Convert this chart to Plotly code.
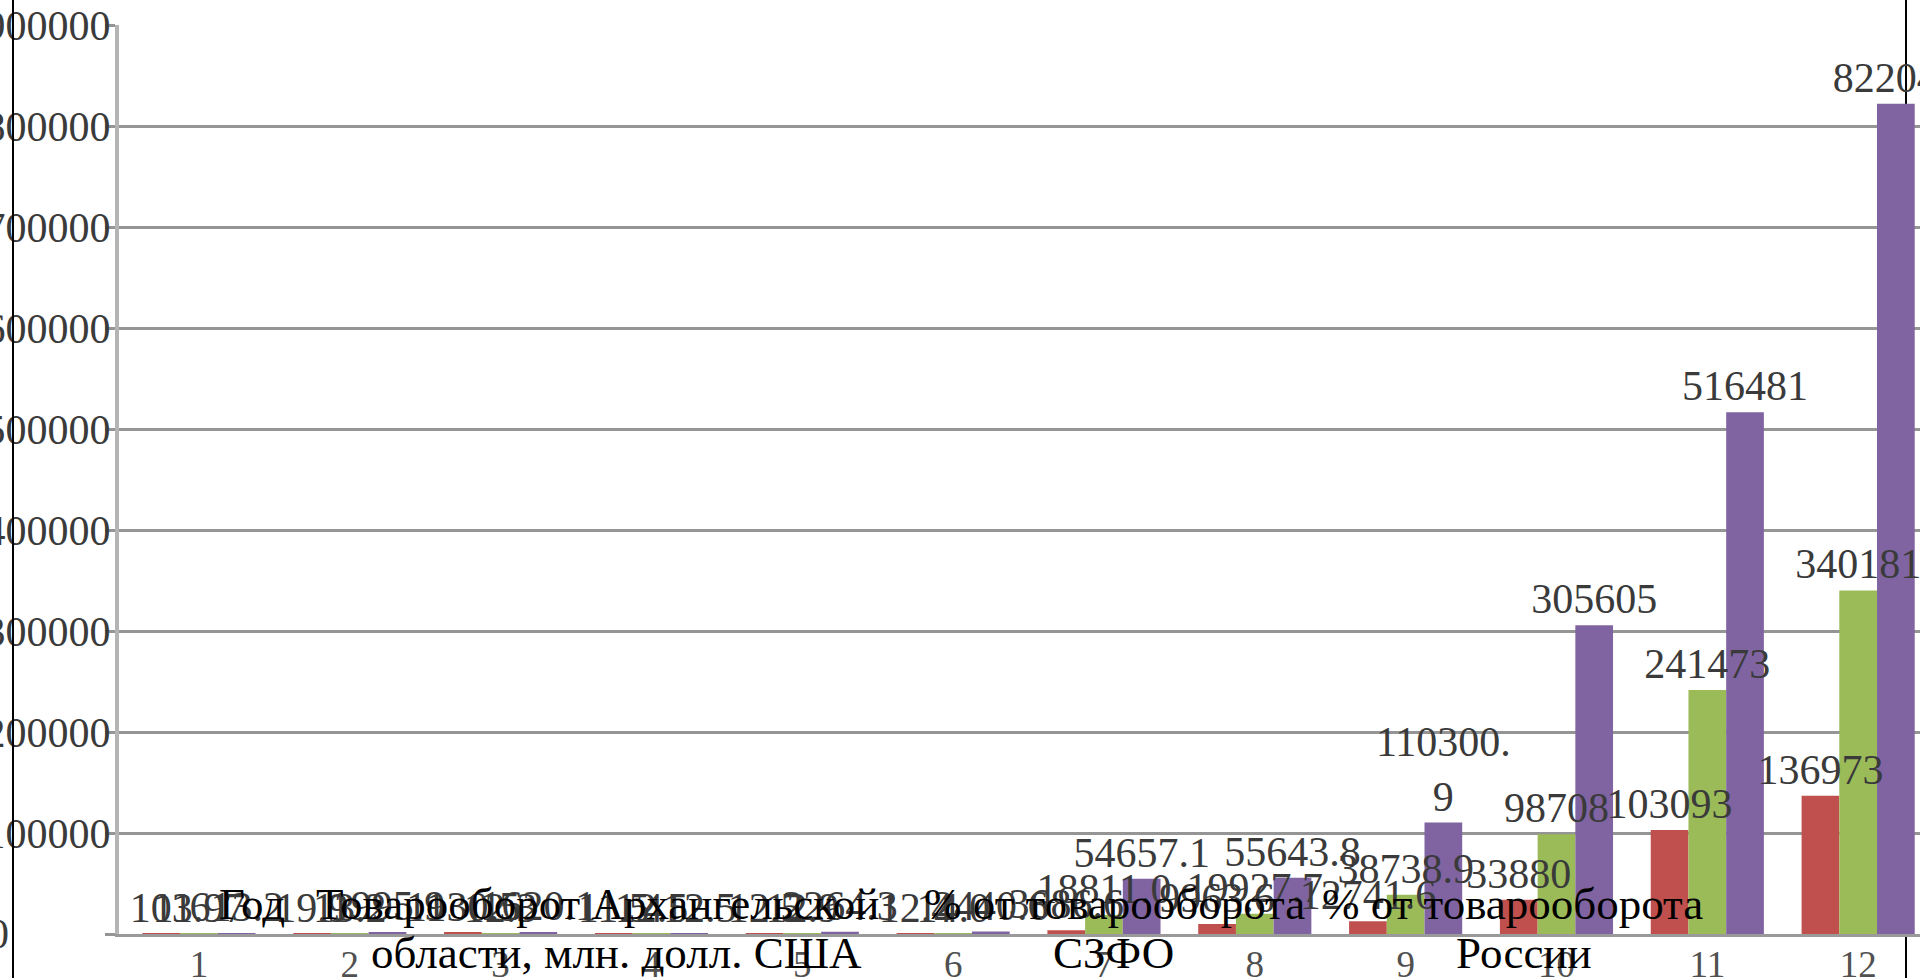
import plotly.graph_objects as go

categories = ["1", "2", "3", "4", "5", "6", "7", "8", "9", "10", "11", "12"]

red_vals = [103, 19.9, 1130.5, 11.5, 12.5, 12.4, 3686.6, 9963.6, 12741.6, 33880, 103093, 136973]
green_vals = [11.97, 13.2, 12.3, 12.5, 12.9, 14.0, 18811.0, 19927.7, 38738.9, 98708, 241473, 340181]
purple_vals = [613.2, 1995.9, 1620.1, 412.5, 2264.3, 2440.6, 54657.1, 55643.8, 110300.9, 305605, 516481, 822047]

y_ticks = [0, 100000, 200000, 300000, 400000, 500000, 600000, 700000, 800000, 900000]

# table header text that sits over the chart in the original (one entry per line)
header_lines = [
    ("Год", 252, 904),
    ("Товарооборот Архангельской", 597, 904),
    ("области, млн. долл. США", 616, 953),
    ("% от товарооборота", 1114, 904),
    ("СЗФО", 1113, 953),
    ("% от товарооборота", 1512, 904),
    ("России", 1524, 953),
]

FONT = "Liberation Serif"
W, H = 1920, 978
ML, MR, MT, MB = 119, 0, 25, 44


def label(v):
    s = str(v)
    # excel wraps the long labels
    if len(s) > 7:
        s = s[:7] + "<br>" + s[7:]
    return s


def px_x(p):
    return (p - ML) / (W - ML - MR)


def px_y(p):
    return 1 - (p - MT) / (H - MT - MB)


series = [(red_vals, "#C0504D", "r"), (green_vals, "#9BBB59", "g"), (purple_vals, "#8064A2", "p")]

fig = go.Figure()
for vals, color, grp in series:
    fig.add_trace(go.Bar(
        x=categories, y=vals, offsetgroup=grp,
        marker=dict(color=color, line=dict(width=0)),
        hoverinfo="skip",
    ))
# labels drawn after all bars so they sit on top, as in the original
for vals, color, grp in series:
    fig.add_trace(go.Bar(
        x=categories, y=vals, offsetgroup=grp,
        marker=dict(color="rgba(0,0,0,0)", line=dict(width=0)),
        text=[label(v) for v in vals],
        textposition="outside",
        constraintext="none",
        cliponaxis=False,
        textfont=dict(family=FONT, size=42, color="#3a3a3a"),
        hoverinfo="skip",
    ))

fig.update_layout(
    width=W, height=H,
    margin=dict(l=ML, r=MR, t=MT, b=MB),
    paper_bgcolor="white",
    plot_bgcolor="rgba(0,0,0,0)",
    barmode="group",
    bargap=0.25,
    bargroupgap=0,
    showlegend=False,
    xaxis=dict(
        type="category",
        range=[-0.53, 11.41],
        automargin=False,
        showline=True, linecolor="#9a9a9a", linewidth=3,
        showgrid=False, ticks="",
        ticklabelstandoff=-4,
        tickfont=dict(family=FONT, size=37, color="#505050"),
    ),
    yaxis=dict(
        range=[0, 900000],
        automargin=False,
        tickvals=y_ticks,
        ticktext=[""] + [str(v) for v in y_ticks[1:]],
        showline=True, linecolor="#b4b4b4", linewidth=4,
        showgrid=True, gridcolor="#959595", gridwidth=3,
        zeroline=False,
        ticks="outside", ticklen=10, tickcolor="#959595", tickwidth=3,
        ticklabelstandoff=-14,
        tickfont=dict(family=FONT, size=42, color="#3a3a3a"),
    ),
)

# the "0" label is left-aligned like the rest in the original
fig.add_annotation(
    xref="paper", yref="y", x=px_x(-14), y=0, xanchor="left", yanchor="middle",
    text="0", showarrow=False, font=dict(family=FONT, size=42, color="#3a3a3a"),
)

# overlaid header cells
for txt, hx, hy in header_lines:
    fig.add_annotation(
        xref="paper", yref="paper", x=px_x(hx), y=px_y(hy),
        xanchor="center", yanchor="middle",
        text=txt, showarrow=False,
        font=dict(family=FONT, size=45, color="black"),
    )

# black cell borders
fig.add_shape(type="line", xref="paper", yref="paper", x0=px_x(13), x1=px_x(13),
              y0=px_y(H), y1=px_y(0), line=dict(color="black", width=2), layer="above")
fig.add_shape(type="line", xref="paper", yref="paper", x0=px_x(1906), x1=px_x(1906),
              y0=px_y(H), y1=px_y(0), line=dict(color="black", width=2), layer="below")

# no page margin, so the figure fills the window exactly
fig.write_html(
    "out.html",
    config={"displayModeBar": False},
    post_script="document.body.style.margin='0';document.body.style.overflow='hidden';",
)
